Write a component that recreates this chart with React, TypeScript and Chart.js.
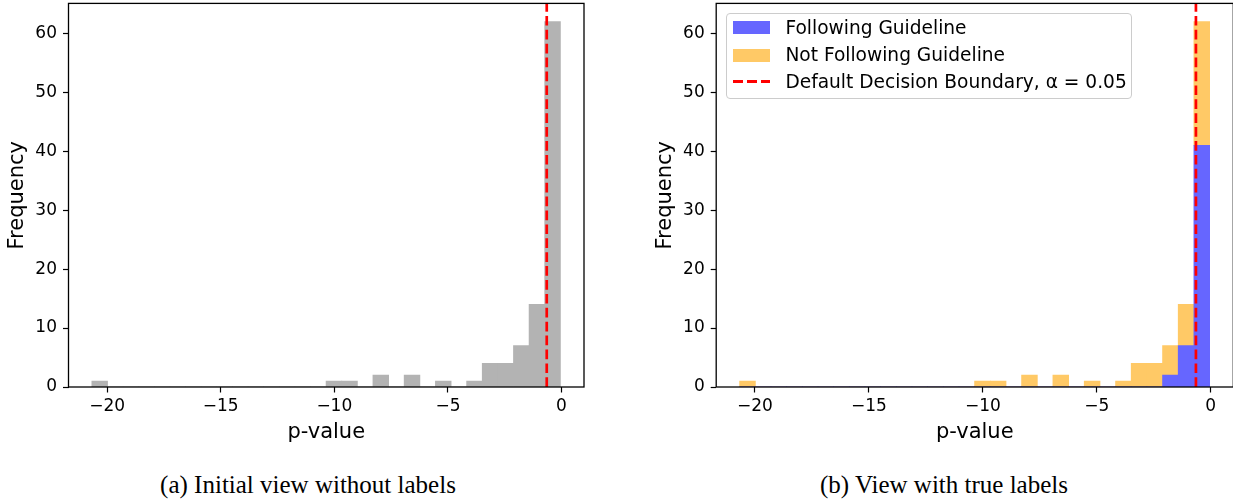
import React, { useEffect, useRef } from "react";
import { Chart, registerables } from "chart.js";

Chart.register(...registerables);

// ---- data ----
const BIN_LO = -20.67;
const BIN_HI = -0.05;
const ALL_COUNTS = [1, 0, 0, 0, 0, 0, 0, 0, 0, 0, 0, 0, 0, 0, 0, 1, 1, 0, 2, 0, 2, 0, 1, 0, 1, 4, 4, 7, 14, 62];
const FOLLOWING = [0, 0, 0, 0, 0, 0, 0, 0, 0, 0, 0, 0, 0, 0, 0, 0, 0, 0, 0, 0, 0, 0, 0, 0, 0, 0, 0, 2, 7, 41];
const NOT_FOLLOWING = [1, 0, 0, 0, 0, 0, 0, 0, 0, 0, 0, 0, 0, 0, 0, 1, 1, 0, 2, 0, 2, 0, 1, 0, 1, 4, 4, 5, 7, 21];
const BOUNDARY = -0.65;
const X_TICKS = [-20, -15, -10, -5, 0];
const Y_TICKS = [0, 10, 20, 30, 40, 50, 60];
const X_MIN = -21.7;
const X_MAX = 0.99;
const Y_MAX = 65.1;
const LEGEND_LABELS = ["Following Guideline", "Not Following Guideline", "Default Decision Boundary, \u03b1 = 0.05"];
const CAPTIONS = ["(a) Initial view without labels", "(b) View with true labels"];

const GRAY = "#b3b3b3";
const BLUE = "#6666ff";
const ORANGE = "#ffc966";

const BIN_W = (BIN_HI - BIN_LO) / ALL_COUNTS.length;
const binCenter = (i: number) => BIN_LO + BIN_W * (i + 0.5);
const toPoints = (arr: number[]) => arr.map((v, i) => ({ x: binCenter(i), y: v }));

const TICK_FONT = { family: "DejaVu Sans", size: 17 };
const TITLE_FONT = { family: "DejaVu Sans", size: 21 };

const fmt = (v: number) => (v < 0 ? "\u2212" + Math.abs(v) : String(v));

const framePlugin = {
  id: "frame",
  afterDatasetsDraw(chart: any) {
    const { ctx, chartArea: a } = chart;
    ctx.save();
    ctx.strokeStyle = "#000";
    ctx.lineWidth = 1.3;
    ctx.strokeRect(a.left, a.top, a.right - a.left, a.bottom - a.top);
    ctx.restore();
  },
};

function makeOptions(yWidth: number, padRight: number, stacked: boolean) {
  return {
    responsive: false,
    animation: false,
    events: [],
    layout: { padding: { top: 3.4, right: padRight, bottom: 0, left: 0 } },
    plugins: { legend: { display: false }, tooltip: { enabled: false } },
    datasets: { bar: { barPercentage: 1, categoryPercentage: 1, borderWidth: 0, inflateAmount: 0.4 } },
    scales: {
      x: {
        type: "linear",
        min: X_MIN,
        max: X_MAX,
        offset: false,
        stacked: stacked,
        afterBuildTicks: (s: any) => {
          s.ticks = X_TICKS.map((v) => ({ value: v }));
        },
        afterFit: (s: any) => {
          s.height = 62;
          s.paddingLeft = 0;
          s.paddingRight = 0;
        },
        ticks: { font: TICK_FONT, color: "#000", padding: 4, maxRotation: 0, autoSkip: false, callback: (v: number) => fmt(v) },
        grid: { display: true, offset: false, drawOnChartArea: false, drawTicks: true, tickLength: 5.5, tickColor: "#000", tickWidth: 1.2 },
        border: { display: false },
        title: { display: true, text: "p-value", font: TITLE_FONT, color: "#000", padding: { top: 4, bottom: 4 } },
      },
      y: {
        type: "linear",
        min: 0,
        max: Y_MAX,
        stacked: stacked,
        afterBuildTicks: (s: any) => {
          s.ticks = Y_TICKS.map((v) => ({ value: v }));
        },
        afterFit: (s: any) => {
          s.width = yWidth;
          s.paddingTop = 0;
          s.paddingBottom = 0;
        },
        ticks: { font: TICK_FONT, color: "#000", padding: 6, callback: (v: number) => fmt(v) },
        grid: { display: true, offset: false, drawOnChartArea: false, drawTicks: true, tickLength: 5.5, tickColor: "#000", tickWidth: 1.2 },
        border: { display: false },
        title: { display: true, text: "Frequency", font: TITLE_FONT, color: "#000", padding: { top: 4, bottom: 4 } },
      },
    },
  };
}

const boundaryDataset = {
  type: "line",
  label: LEGEND_LABELS[2],
  data: [
    { x: BOUNDARY, y: 0 },
    { x: BOUNDARY, y: Y_MAX },
  ],
  borderColor: "#ff0000",
  borderWidth: 2.7,
  borderDash: [9.7, 4.2],
  pointRadius: 0,
  fill: false,
  stack: "line",
  order: 0,
};

function Panel({ left, yWidth, padRight, kind }: { left: number; yWidth: number; padRight: number; kind: "a" | "b" }) {
  const ref = useRef<HTMLCanvasElement>(null);
  useEffect(() => {
    const datasets: any[] =
      kind === "a"
        ? [
            { type: "bar", label: "All", data: toPoints(ALL_COUNTS), backgroundColor: GRAY, order: 1, stack: "s" },
            { ...boundaryDataset },
          ]
        : [
            { type: "bar", label: LEGEND_LABELS[0], data: toPoints(FOLLOWING), backgroundColor: BLUE, order: 1, stack: "s" },
            { type: "bar", label: LEGEND_LABELS[1], data: toPoints(NOT_FOLLOWING), backgroundColor: ORANGE, order: 1, stack: "s" },
            { ...boundaryDataset },
          ];
    const chart = new Chart(ref.current as HTMLCanvasElement, {
      type: "bar",
      data: { datasets },
      options: makeOptions(yWidth, padRight, kind === "b") as any,
      plugins: [framePlugin],
    } as any);
    return () => chart.destroy();
  }, []);
  return (
    <div style={{ position: "absolute", left, top: 0, width: 600, height: 449 }}>
      <canvas ref={ref} width={600} height={449} style={{ width: 600, height: 449, display: "block" }} />
    </div>
  );
}

const legendRow = (top: number): React.CSSProperties => ({
  position: "absolute",
  left: 0,
  top,
  height: 0,
  width: "100%",
});

export default function App() {
  const legendFont: React.CSSProperties = {
    fontFamily: "DejaVu Sans",
    fontSize: 18.6,
    color: "#000",
    whiteSpace: "nowrap",
    position: "absolute",
    left: 58,
    transform: "translateY(-50%)",
    lineHeight: 1,
  };
  const captionStyle: React.CSSProperties = {
    position: "absolute",
    top: 470,
    fontFamily: "Liberation Serif",
    fontSize: 25,
    color: "#000",
    whiteSpace: "nowrap",
    transform: "translateX(-50%)",
    lineHeight: "30px",
  };
  return (
    <div style={{ position: "absolute", left: 0, top: 0, width: 1233, height: 501, overflow: "hidden", background: "#fff" }}>
      <Panel left={1} yWidth={67.5} padRight={17} kind="a" />
      <Panel left={649} yWidth={67.2} padRight={15.7} kind="b" />
      <div
        style={{
          position: "absolute",
          left: 726.4,
          top: 12.7,
          width: 406,
          height: 86,
          boxSizing: "border-box",
          border: "1px solid #cccccc",
          borderRadius: 4,
          background: "rgba(255,255,255,0.8)",
        }}
      >
        <div style={legendRow(14)}>
          <div style={{ position: "absolute", left: 6, top: -6.5, width: 37, height: 13, background: BLUE }} />
          <div style={legendFont}>{LEGEND_LABELS[0]}</div>
        </div>
        <div style={legendRow(41.5)}>
          <div style={{ position: "absolute", left: 6, top: -6.5, width: 37, height: 13, background: ORANGE }} />
          <div style={legendFont}>{LEGEND_LABELS[1]}</div>
        </div>
        <div style={legendRow(68)}>
          <div
            style={{
              position: "absolute",
              left: 6,
              top: -1.35,
              width: 37,
              height: 2.7,
              background: "repeating-linear-gradient(to right, #ff0000 0px, #ff0000 9.7px, transparent 9.7px, transparent 13.9px)",
            }}
          />
          <div style={legendFont}>{LEGEND_LABELS[2]}</div>
        </div>
      </div>
      <div style={{ ...captionStyle, left: 308 }}>{CAPTIONS[0]}</div>
      <div style={{ ...captionStyle, left: 944 }}>{CAPTIONS[1]}</div>
    </div>
  );
}
